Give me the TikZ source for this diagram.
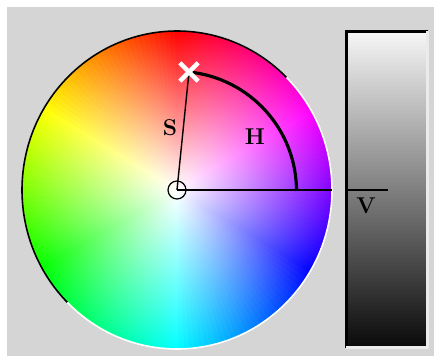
\documentclass[tikz,border=0pt]{standalone}
\usetikzlibrary{fadings,shapes.misc}

\pgfdeclareradialshading{satshading}{\pgfpointorigin}{color(0bp)=(white); color(25bp)=(black); color(50bp)=(black)}
\pgfdeclarefading{satfade}{\pgfuseshading{satshading}}
\definecolor{panelgray}{gray}{0.835}

\begin{document}
\begin{tikzpicture}[x=0.02cm, y=0.02cm,
  lbl/.style={font=\fontsize{13}{13}\selectfont\bfseries, inner sep=0pt},
  guide/.style={black, line width=0.8pt}]

% Background
\fill[white] (0,0) rectangle (434,356);
\fill[panelgray] (7,0) rectangle (434,349);
\useasboundingbox (0,0) rectangle (434,356);

% Define points
\coordinate (hub) at (177,166);
\coordinate (mark) at (189,284);
\coordinate (rim) at (332,166);
\coordinate (vtick) at (388,166);

% Hue wedges
\foreach \h in {0,2,...,358} {
  \definecolor{huecol}{Hsb}{\h,1,1}
  \fill[huecol] (hub) -- +(88.6+\h:155 and 159)
    arc[start angle=88.6+\h, end angle=91.4+\h, x radius=155, y radius=159] -- cycle;
}

% Saturation fade
\fill[white, path fading=satfade] (hub) ellipse [x radius=155, y radius=159];

% Rim
\draw[black, line width=0.9pt] (hub) ++(45:155 and 159)
  arc[start angle=45, end angle=225, x radius=155, y radius=159];
\draw[white, line width=0.9pt] (hub) ++(225:155 and 159)
  arc[start angle=225, end angle=405, x radius=155, y radius=159];

% Value bar
\node[minimum width=1.56cm, minimum height=6.26cm, inner sep=0pt,
  top color=white!96!black, bottom color=black!96!white] (vbar) at (387,166.5) {};
\draw[black, line width=1.7pt] ([shift={(-1.5,-1.5)}]vbar.south west)
  -- ([shift={(-1.5,1.5)}]vbar.north west) -- ([shift={(1.5,1.5)}]vbar.north east);
\draw[white!92!black, line width=1.7pt] ([shift={(1.5,1.5)}]vbar.north east)
  -- ([shift={(1.5,-1.5)}]vbar.south east) -- ([shift={(-1.5,-1.5)}]vbar.south west);

% Draw lines
\draw[guide] (hub) -- (mark);
\draw[guide] (hub) -- (rim);
\draw[guide] (vbar.west |- hub) -- (vtick);
\draw[black, line width=1.8pt] (mark) arc[start angle=84.2, end angle=0, radius=119.6];
\node[draw, circle, minimum size=0.36cm, inner sep=0pt, line width=0.7pt] (hubring) at (hub) {};
\node[cross out, draw=white, line width=2.5pt, minimum size=0.28cm, inner sep=0pt] (xmark) at (mark) {};

% Labels
\node[lbl] (slabel) at (170,228) {S};
\node[lbl] (hlabel) at (255,219) {H};
\node[lbl] (vlabel) at (366,150) {V};

\end{tikzpicture}
\end{document}
